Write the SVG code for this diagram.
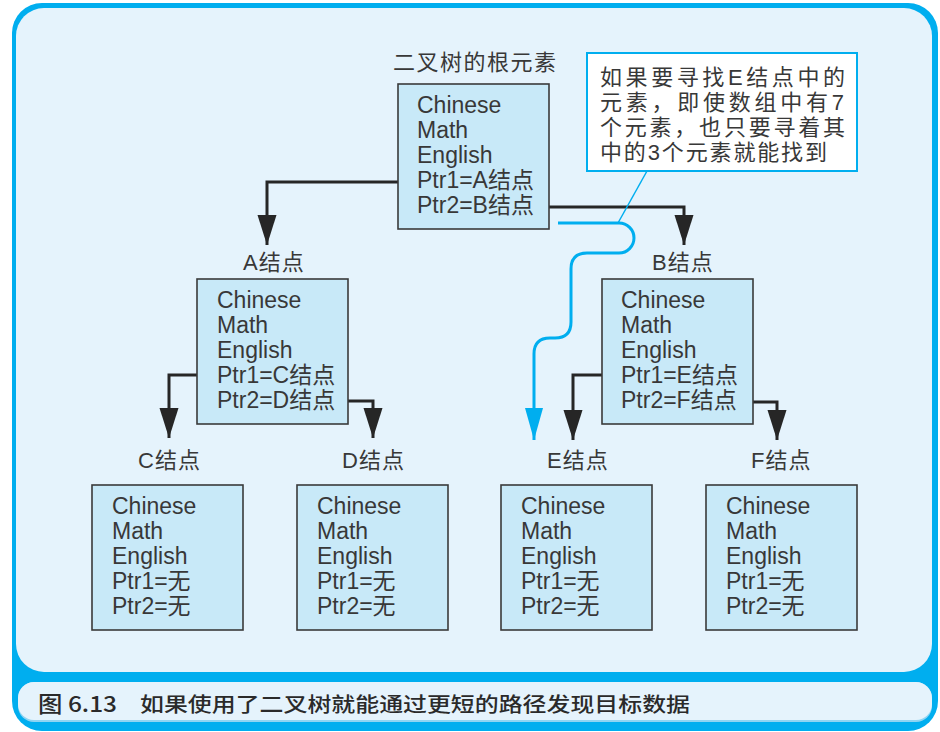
<svg xmlns="http://www.w3.org/2000/svg" width="940" height="732" viewBox="0 0 940 732">
<style>
.t{font-family:"Liberation Sans","Noto Sans CJK SC",sans-serif;font-size:23px;fill:#383838}
.lbl{font-family:"Liberation Sans","Noto Sans CJK SC",sans-serif;font-size:22px;fill:#383838;letter-spacing:1px}
.box{fill:#C8E9F8;stroke:#3a3a3a;stroke-width:1.6}
.con{fill:none;stroke:#262626;stroke-width:3}
.cap{font-family:"Noto Sans CJK SC",sans-serif;font-size:20px;font-weight:500;fill:#2a2a2a}
</style>
<defs>
<marker id="ah" markerUnits="userSpaceOnUse" markerWidth="32" markerHeight="22" viewBox="0 -11 32 22" refX="30" refY="0" orient="auto">
<path d="M0,-9.5 L30,0 L0,9.5 z" fill="#262626"/>
</marker>
<marker id="ahb" markerUnits="userSpaceOnUse" markerWidth="34" markerHeight="22" viewBox="0 -11 34 22" refX="32" refY="0" orient="auto">
<path d="M0,-9 L32,0 L0,9 z" fill="#00AEEF"/>
</marker>
</defs>
<rect x="0" y="0" width="940" height="732" fill="#ffffff"/>
<g id="frame">
<rect x="12" y="3" width="926" height="728" rx="30" fill="#00AEEF"/>
<rect x="16" y="8" width="916" height="664" rx="28" fill="#E5F3FC"/>
<rect x="18" y="682" width="914" height="40" rx="16" fill="#8FD4F2"/>
<rect x="18" y="682" width="914" height="38" rx="16" fill="#E5F3FC"/>
<text class="cap" x="38" y="712" style="font-size:22px" textLength="79" lengthAdjust="spacingAndGlyphs">图 6.13</text>
<text class="cap" x="140" y="712" textLength="550" lengthAdjust="spacingAndGlyphs">如果使用了二叉树就能通过更短的路径发现目标数据</text>
</g>
<g id="connectors">
<path class="con" d="M409,182 H267 V245" marker-end="url(#ah)"/>
<path class="con" d="M540,207 H684 V245" marker-end="url(#ah)"/>
<path class="con" d="M207,375 H169 V438" marker-end="url(#ah)"/>
<path class="con" d="M338,401 H373 V438" marker-end="url(#ah)"/>
<path class="con" d="M611,375 H573 V440" marker-end="url(#ah)"/>
<path class="con" d="M743,402 H777 V440" marker-end="url(#ah)"/>
<path d="M558,223 H619 A15,15 0 0 1 619,253 H587 Q571,253 571,269 V322 Q571,338 555,338 H550 Q534,338 534,354 V440" fill="none" stroke="#00AEEF" stroke-width="3" marker-end="url(#ahb)"/>
<line x1="647" y1="171" x2="618" y2="223" stroke="#00AEEF" stroke-width="1.5"/>
</g>
<g id="root">
<text class="lbl" x="393" y="70" style="letter-spacing:1.5px">二叉树的根元素</text>
<rect class="box" x="398" y="84" width="151" height="145"/>
<text class="t" x="417" y="113">Chinese</text>
<text class="t" x="417" y="138">Math</text>
<text class="t" x="417" y="163">English</text>
<text class="t" x="417" y="188">Ptr1=A结点</text>
<text class="t" x="417" y="213">Ptr2=B结点</text>
</g>
<g id="callout">
<rect x="587" y="53" width="270" height="118" fill="#ffffff" stroke="#00AEEF" stroke-width="2"/>
<text class="t" x="600" y="85" textLength="245" lengthAdjust="spacing" style="font-size:22px">如果要寻找E结点中的</text>
<text class="t" x="600" y="110" textLength="244" lengthAdjust="spacing" style="font-size:22px">元素，即使数组中有7</text>
<text class="t" x="600" y="135" textLength="245" lengthAdjust="spacing" style="font-size:22px">个元素，也只要寻着其</text>
<text class="t" x="600" y="160" textLength="227" lengthAdjust="spacing" style="font-size:22px">中的3个元素就能找到</text>
</g>
<g id="nodeA">
<text class="lbl" x="243" y="270">A结点</text>
<rect class="box" x="197" y="279" width="151" height="145"/>
<text class="t" x="217" y="308">Chinese</text>
<text class="t" x="217" y="333">Math</text>
<text class="t" x="217" y="358">English</text>
<text class="t" x="217" y="383">Ptr1=C结点</text>
<text class="t" x="217" y="408">Ptr2=D结点</text>
</g>
<g id="nodeB">
<text class="lbl" x="652" y="270">B结点</text>
<rect class="box" x="602" y="279" width="151" height="145"/>
<text class="t" x="621" y="308">Chinese</text>
<text class="t" x="621" y="333">Math</text>
<text class="t" x="621" y="358">English</text>
<text class="t" x="621" y="383">Ptr1=E结点</text>
<text class="t" x="621" y="408">Ptr2=F结点</text>
</g>
<g id="nodeC">
<text class="lbl" x="138" y="468">C结点</text>
<rect class="box" x="92" y="485" width="151" height="145"/>
<text class="t" x="112" y="514">Chinese</text>
<text class="t" x="112" y="539">Math</text>
<text class="t" x="112" y="564">English</text>
<text class="t" x="112" y="589">Ptr1=无</text>
<text class="t" x="112" y="614">Ptr2=无</text>
</g>
<g id="nodeD">
<text class="lbl" x="342" y="468">D结点</text>
<rect class="box" x="297" y="485" width="151" height="145"/>
<text class="t" x="317" y="514">Chinese</text>
<text class="t" x="317" y="539">Math</text>
<text class="t" x="317" y="564">English</text>
<text class="t" x="317" y="589">Ptr1=无</text>
<text class="t" x="317" y="614">Ptr2=无</text>
</g>
<g id="nodeE">
<text class="lbl" x="547" y="468">E结点</text>
<rect class="box" x="501" y="485" width="151" height="145"/>
<text class="t" x="521" y="514">Chinese</text>
<text class="t" x="521" y="539">Math</text>
<text class="t" x="521" y="564">English</text>
<text class="t" x="521" y="589">Ptr1=无</text>
<text class="t" x="521" y="614">Ptr2=无</text>
</g>
<g id="nodeF">
<text class="lbl" x="751" y="468">F结点</text>
<rect class="box" x="706" y="485" width="151" height="145"/>
<text class="t" x="726" y="514">Chinese</text>
<text class="t" x="726" y="539">Math</text>
<text class="t" x="726" y="564">English</text>
<text class="t" x="726" y="589">Ptr1=无</text>
<text class="t" x="726" y="614">Ptr2=无</text>
</g>
</svg>
